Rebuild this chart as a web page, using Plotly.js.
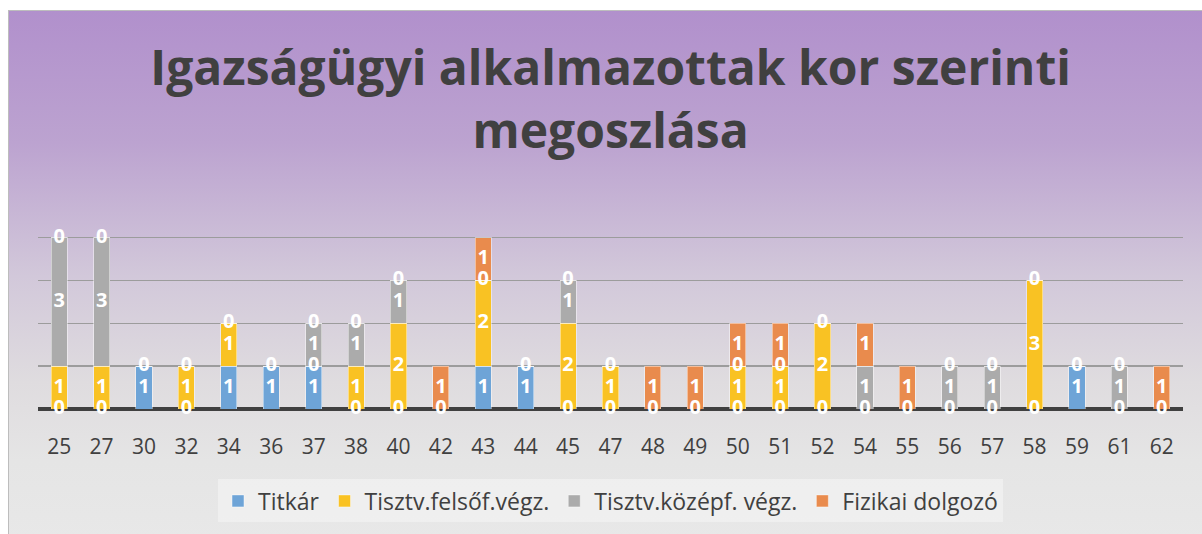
<!DOCTYPE html>
<html><head><meta charset="utf-8">
<script src="https://cdn.plot.ly/plotly-3.0.1.min.js"></script>
<style>
html,body{margin:0;padding:0;background:#fff;width:1202px;height:534px;overflow:hidden;}
#frame{position:absolute;left:8px;top:10px;width:1200px;height:530px;border-top:1.5px solid #bdbdbd;border-left:1.5px solid #bdbdbd;
background:linear-gradient(to bottom,#b190cc 0%,#bca3d0 25%,#d2c8da 50%,#dfdcdf 70%,#e5e5e5 85%,#e8e8e8 100%);}
#chart{position:absolute;left:0;top:0;width:1202px;height:534px;}
</style></head><body>
<div id="frame"></div>
<div id="chart"></div>
<script>
var categories = ['25','27','30','32','34','36','37','38','40','42','43','44','45','47','48','49','50','51','52','54','55','56','57','58','59','61','62'];
var titkar  = [0,0,1,0,1,1,1,0,0,0,1,1,0,0,0,0,0,0,0,0,0,0,0,0,1,0,0];
var felso   = [1,1,null,1,1,null,0,1,2,null,2,null,2,1,null,null,1,1,2,null,null,null,null,3,null,null,null];
var kozep   = [3,3,null,null,null,null,1,1,1,null,0,null,1,null,null,null,0,0,null,1,null,1,1,null,null,1,null];
var fizikai = [0,0,0,0,0,0,0,0,0,1,1,0,0,0,1,1,1,1,0,1,1,0,0,0,0,0,1];
var seriesNames = ['Titkár','Tisztv.felsőf.végz.','Tisztv.középf. végz.','Fizikai dolgozó'];
var colors = ['#6ea4d7','#f9c223','#ababab','#e98b4d'];
var seriesData = [titkar, felso, kozep, fizikai];

var traces = [];
var base = categories.map(function(){return 0;});
var labelTraces = [];
seriesData.forEach(function(vals, i){
  traces.push({type:'bar', x:categories, y:vals.map(function(v){return v===null?0:v;}), name:seriesNames[i],
    marker:{color:colors[i], line:{color:'rgba(255,255,255,0.45)', width:1}}, hoverinfo:'skip'});
  var lx=[], ly=[], lt=[];
  vals.forEach(function(v, j){
    if(v!==null){ lx.push(categories[j]); ly.push(base[j] + v/2); lt.push(String(v)); base[j]+=v; }
  });
  labelTraces.push({type:'scatter', mode:'text', x:lx, y:ly, text:lt, showlegend:false, cliponaxis:false, hoverinfo:'skip',
    textfont:{family:'Open Sans', size:20, color:'#ffffff', weight:'bold'}});
});

var layout = {
  width:1202, height:534,
  paper_bgcolor:'rgba(0,0,0,0)', plot_bgcolor:'rgba(0,0,0,0)',
  margin:{l:38, r:19, t:235, b:125, autoexpand:false},
  barmode:'stack', bargap:0.62,
  title:{text:'<b>Igazságügyi alkalmazottak kor szerinti<br>megoszlása</b>', x:0.508, xanchor:'center', yref:'container', y:0.84, yanchor:'middle',
    font:{family:'Open Sans', size:48, color:'#404040'}},
  xaxis:{type:'category', range:[-0.5, 26.5], autorange:false, showgrid:false, showline:false, ticks:'outside', ticklen:19, tickcolor:'rgba(0,0,0,0)',
    tickfont:{family:'Open Sans', size:21, color:'#404040'}, fixedrange:true},
  yaxis:{range:[0,4.06], autorange:false, dtick:1, tick0:0, showticklabels:false, gridcolor:'#9c9c9c', gridwidth:1.3, zeroline:true, zerolinecolor:'#404040', zerolinewidth:3.5, fixedrange:true},
  showlegend:true,
  legend:{orientation:'h', x:0.5, xanchor:'center', y:-0.405, yanchor:'top', bgcolor:'rgba(245,245,245,0.55)',
    font:{family:'Open Sans', size:23, color:'#404040'}, itemwidth:30, traceorder:'normal'}
};
Plotly.newPlot('chart', traces.concat(labelTraces), layout, {displayModeBar:false, staticPlot:true});
</script>
</body></html>
